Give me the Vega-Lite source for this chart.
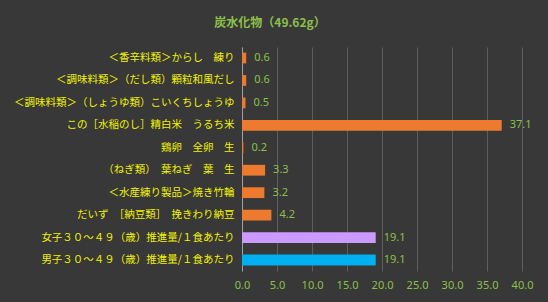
{
  "$schema": "https://vega.github.io/schema/vega-lite/v6.json",
  "width": 280,
  "height": 224,
  "autosize": {"type": "none"},
  "padding": {"left": 242, "top": 47, "right": 26, "bottom": 31},
  "background": "#383838",
  "title": {
    "text": "炭水化物（49.62g）",
    "color": "#8CC04A",
    "font": "Noto Sans CJK JP",
    "fontSize": 12,
    "fontWeight": "bold",
    "anchor": "middle",
    "dx": -112,
    "offset": 17
  },
  "data": {
    "values": [
      {"name": "＜香辛料類＞からし　練り", "value": 0.6, "group": "food"},
      {"name": "＜調味料類＞（だし類）顆粒和風だし", "value": 0.6, "group": "food"},
      {"name": "＜調味料類＞（しょうゆ類）こいくちしょうゆ", "value": 0.5, "group": "food"},
      {"name": "この［水稲のし］精白米　うるち米", "value": 37.1, "group": "food"},
      {"name": "鶏卵　全卵　生", "value": 0.2, "group": "food"},
      {"name": "（ねぎ類）　葉ねぎ　葉　生", "value": 3.3, "group": "food"},
      {"name": "＜水産練り製品＞焼き竹輪", "value": 3.2, "group": "food"},
      {"name": "だいず　［納豆類］　挽きわり納豆", "value": 4.2, "group": "food"},
      {"name": "女子３０～４９（歳）推進量/１食あたり", "value": 19.1, "group": "female"},
      {"name": "男子３０～４９（歳）推進量/１食あたり", "value": 19.1, "group": "male"}
    ]
  },
  "encoding": {
    "y": {
      "field": "name",
      "type": "nominal",
      "sort": null,
      "scale": {"paddingInner": 0.52, "paddingOuter": 0.25},
      "axis": {
        "title": null,
        "labelColor": "#F2F200",
        "labelFont": "Noto Sans CJK JP",
        "labelFontSize": 10.5,
        "labelPadding": 8,
        "ticks": false,
        "domainColor": "#A0A0A0",
        "labelLimit": 300
      }
    },
    "x": {
      "field": "value",
      "type": "quantitative",
      "scale": {"domain": [0, 40], "nice": false},
      "axis": {
        "title": null,
        "values": [0, 5, 10, 15, 20, 25, 30, 35, 40],
        "format": ".1f",
        "labelColor": "#8CC04A",
        "labelFont": "Noto Sans",
        "labelFontSize": 11,
        "labelPadding": 8,
        "ticks": false,
        "domain": false,
        "grid": true,
        "gridColor": "#5E5E5E",
        "labelFlush": false
      }
    }
  },
  "layer": [
    {
      "mark": {"type": "bar"},
      "encoding": {
        "color": {
          "field": "group",
          "type": "nominal",
          "scale": {"domain": ["food", "female", "male"], "range": ["#EE7A30", "#CC99FF", "#00B0F0"]},
          "legend": null
        }
      }
    },
    {
      "mark": {"type": "text", "align": "left", "dx": 8, "color": "#8CC04A", "font": "Noto Sans", "fontSize": 11},
      "encoding": {
        "text": {"field": "value", "type": "quantitative", "format": ".1f"}
      }
    }
  ],
  "config": {"view": {"stroke": null}}
}
